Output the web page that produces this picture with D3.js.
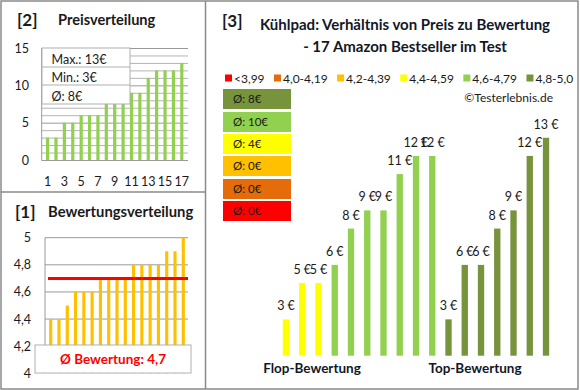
<!DOCTYPE html>
<html>
<head>
<meta charset="utf-8">
<script src="https://cdn.jsdelivr.net/npm/d3@7"></script>
<style>
  body { margin: 0; background: #fff; }
  svg { font-family: Lato, "Open Sans", sans-serif; }
</style>
</head>
<body>
<script>
// Data
var preise = [3, 3, 5, 5, 6, 6, 6, 8, 8, 9, 9, 9, 11, 12, 12, 12, 13];
var bewertungen = [4.4, 4.4, 4.5, 4.6, 4.6, 4.6, 4.7, 4.7, 4.7, 4.7, 4.8, 4.8, 4.8, 4.8, 4.9, 4.9, 5.0];
var preisInfo = ["Max.: 13€", "Min.: 3€", "Ø: 8€"];
var schnittBewertung = "4,7";

// right chart: products ordered flop -> top, with rating class index
var produktPreise = [3, 5, 5, 6, 8, 9, 9, 11, 12, 12, 3, 6, 6, 8, 9, 12, 13];
var produktKlasse = [3, 3, 3, 4, 4, 4, 4, 4, 4, 4, 5, 5, 5, 5, 5, 5, 5];
var klassenLabels = ["<3,99", "4,0-4,19", "4,2-4,39", "4,4-4,59", "4,6-4,79", "4,8-5,0"];
var klassenFarben = ["#ff0000", "#e46c0a", "#ffc000", "#ffff00", "#92d050", "#77933c"];
var schnittPreise = [8, 10, 4, 0, 0, 0]; // boxes from 4,8-5,0 down to <3,99

var svgWidth = 580, svgHeight = 390;
var svg = d3.select("body").append("svg")
  .attr("width", svgWidth)
  .attr("height", svgHeight);

var dark = "#1a1a1a";
var frame = "#8a8a8a";

// panel frames
svg.append("rect").attr("x", 1).attr("y", 1).attr("width", 577).attr("height", 388)
  .attr("fill", "none").attr("stroke", frame).attr("stroke-width", 1.5);
svg.append("line").attr("x1", 205.5).attr("x2", 205.5).attr("y1", 1).attr("y2", 389)
  .attr("stroke", frame).attr("stroke-width", 1.5);
svg.append("line").attr("x1", 1).attr("x2", 205.5).attr("y1", 192).attr("y2", 192)
  .attr("stroke", frame).attr("stroke-width", 1.5);

// ---------- [2] Preisverteilung ----------
svg.append("text").attr("x", 17).attr("y", 26).attr("font-size", 17).attr("font-weight", "bold")
  .attr("fill", dark).text("[2]");
svg.append("text").attr("x", 58).attr("y", 25).attr("font-size", 14.6).attr("font-weight", "bold")
  .attr("fill", dark).text("Preisverteilung");

var idx = d3.range(1, 18);
var x2 = d3.scaleBand().domain(idx).range([40.8, 188.6]).padding(0.62);
var y2 = d3.scaleLinear().domain([0, 15]).range([160, 48]);

var g2 = svg.append("g");
g2.selectAll(".grid2").data(d3.range(0, 16)).enter().append("line")
  .attr("x1", 41.7).attr("x2", 188)
  .attr("y1", d => y2(d) + 0.5).attr("y2", d => y2(d) + 0.5)
  .attr("stroke", d => d % 5 === 0 ? "#9a9a9a" : "#b4b4b4").attr("stroke-width", 1);
g2.append("line").attr("x1", 41.7).attr("x2", 41.7).attr("y1", 48).attr("y2", 160.5)
  .attr("stroke", "#9a9a9a");

g2.selectAll(".bar2").data(preise).enter().append("rect")
  .attr("x", (d, i) => x2(i + 1))
  .attr("width", x2.bandwidth())
  .attr("y", d => y2(d))
  .attr("height", d => y2(0) - y2(d))
  .attr("fill", "#92d050");

var left2 = d3.axisLeft(y2).tickValues([0, 5, 10, 15]).tickSize(0).tickPadding(0);
g2.append("g").attr("transform", "translate(29,0)").call(left2)
  .call(g => g.select(".domain").remove())
  .call(g => g.selectAll("text").attr("font-size", 12.5).attr("fill", dark).attr("font-family", "Lato"));

var bottom2 = d3.axisBottom(x2).tickValues(d3.range(1, 18, 2)).tickSize(0).tickPadding(0);
g2.append("g").attr("transform", "translate(0,177)").call(bottom2)
  .call(g => g.select(".domain").remove())
  .call(g => g.selectAll("text").attr("font-size", 12.5).attr("fill", dark).attr("font-family", "Lato"));

// info box
var info = g2.append("g");
info.append("rect").attr("x", 42).attr("y", 48).attr("width", 88).attr("height", 56)
  .attr("fill", "#fff").attr("stroke", "#b0b0b0");
[67, 85].forEach(function(yy) {
  info.append("line").attr("x1", 42).attr("x2", 130).attr("y1", yy).attr("y2", yy).attr("stroke", "#b0b0b0");
});
info.selectAll("text").data(preisInfo).enter().append("text")
  .attr("x", 51.5).attr("y", (d, i) => 63.5 + i * 18.7)
  .attr("font-size", 12.5).attr("fill", dark).text(d => d);

// ---------- [1] Bewertungsverteilung ----------
svg.append("text").attr("x", 15).attr("y", 218).attr("font-size", 17).attr("font-weight", "bold")
  .attr("fill", dark).text("[1]");
svg.append("text").attr("x", 48).attr("y", 217).attr("font-size", 14.8).attr("font-weight", "bold")
  .attr("fill", dark).text("Bewertungsverteilung");

var x1 = d3.scaleBand().domain(idx).range([44, 190]).padding(0.62);
var y1 = d3.scaleLinear().domain([4, 5]).range([373.3, 237.7]);
var g1 = svg.append("g");

g1.selectAll(".grid1").data([4.2, 4.4, 4.6, 4.8, 5.0]).enter().append("line")
  .attr("x1", 45).attr("x2", 188)
  .attr("y1", d => y1(d)).attr("y2", d => y1(d))
  .attr("stroke", "#9a9a9a");
g1.append("line").attr("x1", 45).attr("x2", 45).attr("y1", y1(5)).attr("y2", y1(4))
  .attr("stroke", "#9a9a9a");

g1.selectAll(".bar1").data(bewertungen).enter().append("rect")
  .attr("x", (d, i) => x1(i + 1))
  .attr("width", x1.bandwidth())
  .attr("y", d => y1(d))
  .attr("height", d => y1(4) - y1(d))
  .attr("fill", "#ffc000");

g1.append("line").attr("x1", 48).attr("x2", 188)
  .attr("y1", y1(4.7)).attr("y2", y1(4.7))
  .attr("stroke", "#ff0000").attr("stroke-width", 3);

var left1 = d3.axisLeft(y1).tickValues([4, 4.2, 4.4, 4.6, 4.8, 5]).tickSize(0).tickPadding(0)
  .tickFormat(d => String(+d.toFixed(1)).replace(".", ","));
g1.append("g").attr("transform", "translate(31,0)").call(left1)
  .call(g => g.select(".domain").remove())
  .call(g => g.selectAll("text").attr("font-size", 12.5).attr("fill", dark).attr("font-family", "Lato"));

g1.append("rect").attr("x", 35).attr("y", 345).attr("width", 156).attr("height", 28)
  .attr("fill", "#fff").attr("stroke", "#b0b0b0");
g1.append("text").attr("x", 113).attr("y", 364).attr("text-anchor", "middle")
  .attr("font-size", 13.5).attr("font-weight", "bold").attr("fill", "#ff0000")
  .text("Ø Bewertung: " + schnittBewertung);

// ---------- [3] Preis zu Bewertung ----------
svg.append("text").attr("x", 222).attr("y", 27).attr("font-size", 17).attr("font-weight", "bold")
  .attr("fill", dark).text("[3]");
svg.append("text").attr("x", 405).attr("y", 30).attr("text-anchor", "middle")
  .attr("font-size", 15).attr("font-weight", "bold").attr("fill", "#111827")
  .text("Kühlpad: Verhältnis von Preis zu Bewertung");
svg.append("text").attr("x", 405).attr("y", 52).attr("text-anchor", "middle")
  .attr("font-size", 15).attr("font-weight", "bold").attr("fill", "#111827")
  .text("- 17 Amazon Bestseller im Test");

// legend
var lx = 225;
klassenLabels.forEach(function(lab, i) {
  svg.append("rect").attr("x", lx).attr("y", 74.5).attr("width", 7).attr("height", 7)
    .attr("fill", klassenFarben[i]);
  var t = svg.append("text").attr("x", lx + 9).attr("y", 82.5).attr("font-size", 12)
    .attr("fill", dark).text(lab);
  lx += 9 + t.node().getComputedTextLength() + 9.4;
});
svg.append("text").attr("x", 553).attr("y", 102).attr("text-anchor", "end")
  .attr("font-size", 12).attr("fill", dark).text("©Testerlebnis.de");

// average boxes
var boxFarben = klassenFarben.slice().reverse();
var boxY = [89, 112, 134, 156, 179, 201];
svg.selectAll(".avg").data(schnittPreise).enter().append("rect")
  .attr("x", 223).attr("y", (d, i) => boxY[i])
  .attr("width", 68).attr("height", 20)
  .attr("fill", (d, i) => boxFarben[i]);
svg.selectAll(".avgText").data(schnittPreise).enter().append("text")
  .attr("x", 233).attr("y", (d, i) => boxY[i] + 14)
  .attr("font-size", 11.5).attr("fill", dark)
  .text(d => "Ø: " + d + "€");

// bars
var x3 = d3.scaleBand().domain(d3.range(produktPreise.length)).range([272.9, 559.1]).padding(0.61);
var y3 = d3.scaleLinear().domain([1, 14]).range([355.7, 119.6]);
svg.selectAll(".bar3").data(produktPreise).enter().append("rect")
  .attr("x", (d, i) => x3(i))
  .attr("width", x3.bandwidth())
  .attr("y", d => y3(d))
  .attr("height", d => y3(1) - y3(d))
  .attr("fill", (d, i) => klassenFarben[produktKlasse[i]]);
svg.selectAll(".lab3").data(produktPreise).enter().append("text")
  .attr("x", (d, i) => x3(i) + x3.bandwidth() / 2)
  .attr("y", d => y3(d) - 9)
  .attr("text-anchor", "middle")
  .attr("font-size", 12.5).attr("fill", dark)
  .text(d => d + " €");

svg.append("text").attr("x", 312).attr("y", 373).attr("text-anchor", "middle")
  .attr("font-size", 13.5).attr("font-weight", "bold").attr("fill", "#111827").text("Flop-Bewertung");
svg.append("text").attr("x", 475).attr("y", 373).attr("text-anchor", "middle")
  .attr("font-size", 13.5).attr("font-weight", "bold").attr("fill", "#111827").text("Top-Bewertung");
</script>
</body>
</html>
